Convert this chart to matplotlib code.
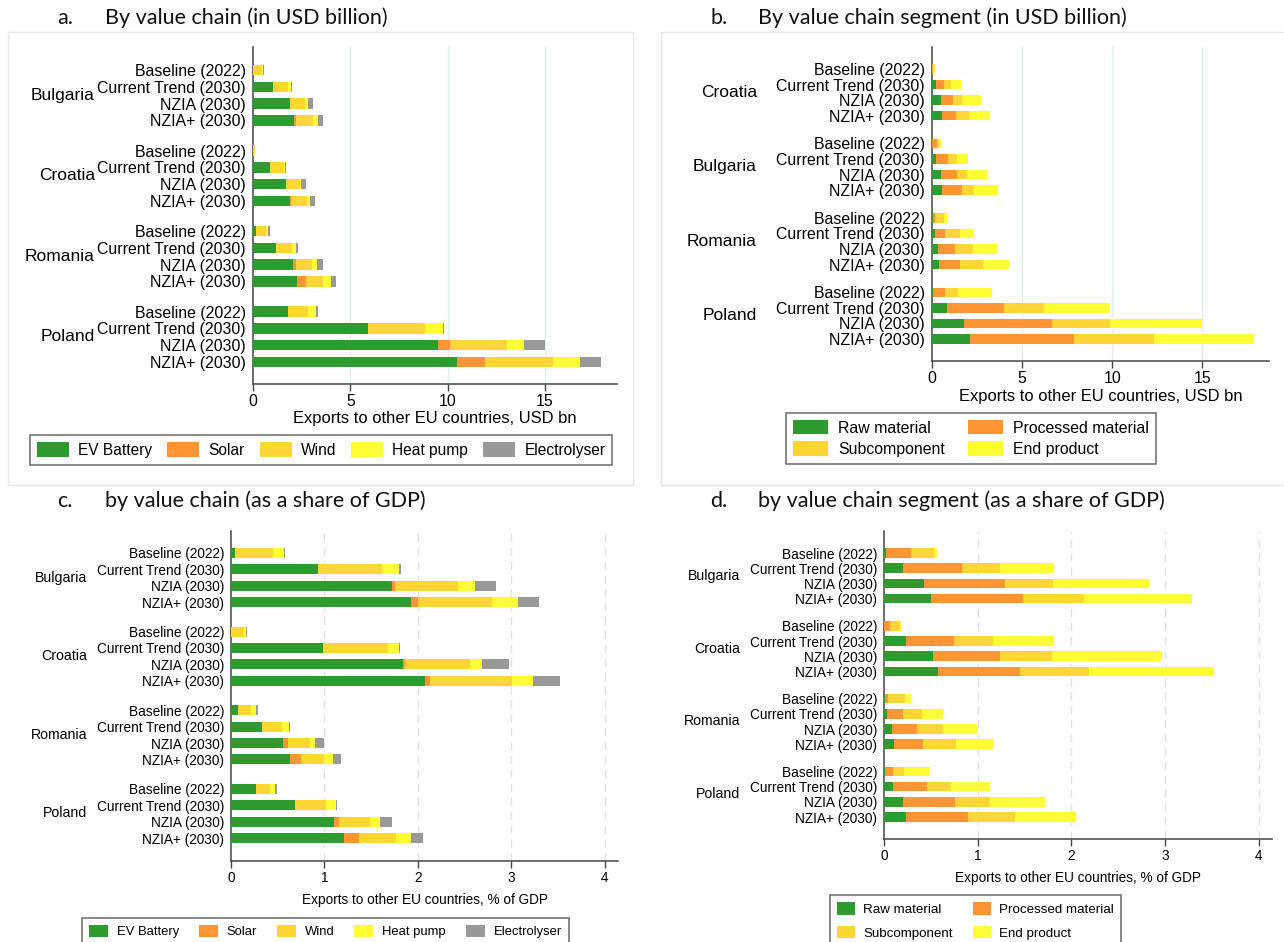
import matplotlib
matplotlib.use('Agg')
import matplotlib.pyplot as plt
import numpy as np
from matplotlib.patches import Patch, Rectangle
from matplotlib.transforms import blended_transform_factory

plt.rcParams['font.family'] = 'Liberation Sans'

# scenario rows, repeated inside every country block
scenarios = ['Baseline (2022)', 'Current Trend (2030)', 'NZIA (2030)', 'NZIA+ (2030)']

# a. by value chain, USD bn  (Bulgaria, Croatia, Romania, Poland)
countries_a = ['Bulgaria', 'Croatia', 'Romania', 'Poland']
ev_usd    = [0.00, 1.01, 1.88, 2.11,  0.00, 0.89, 1.67, 1.90,  0.17, 1.16, 2.05, 2.27,  1.82, 5.91, 9.50, 10.50]
solar_usd = [0.00, 0.00, 0.02, 0.08,  0.00, 0.00, 0.03, 0.04,  0.00, 0.00, 0.16, 0.46,  0.00, 0.00, 0.62, 1.40]
wind_usd  = [0.45, 0.81, 0.77, 0.87,  0.08, 0.70, 0.72, 0.81,  0.51, 0.82, 0.83, 0.89,  1.01, 2.95, 2.94, 3.49]
heat_usd  = [0.07, 0.12, 0.18, 0.29,  0.02, 0.06, 0.04, 0.16,  0.11, 0.23, 0.25, 0.37,  0.41, 0.89, 0.84, 1.39]
elec_usd  = [0.03, 0.06, 0.25, 0.27,  0.02, 0.04, 0.27, 0.29,  0.06, 0.08, 0.31, 0.29,  0.11, 0.08, 1.08, 1.09]

# b. by value chain segment, USD bn  (Croatia, Bulgaria, Romania, Poland)
countries_b = ['Croatia', 'Bulgaria', 'Romania', 'Poland']
raw_usd  = [0.00, 0.23, 0.50, 0.55,  0.01, 0.23, 0.50, 0.57,  0.03, 0.14, 0.32, 0.41,  0.03, 0.84, 1.78, 2.12]
proc_usd = [0.03, 0.45, 0.64, 0.77,  0.24, 0.68, 0.91, 1.07,  0.11, 0.57, 0.98, 1.12,  0.68, 3.15, 4.87, 5.74]
sub_usd  = [0.05, 0.39, 0.52, 0.71,  0.14, 0.46, 0.55, 0.71,  0.50, 0.82, 1.00, 1.29,  0.75, 2.25, 3.21, 4.46]
end_usd  = [0.06, 0.59, 1.05, 1.20,  0.13, 0.63, 1.16, 1.29,  0.23, 0.79, 1.32, 1.46,  1.89, 3.60, 5.13, 5.56]

# c. by value chain, % of GDP  (Bulgaria, Croatia, Romania, Poland)
countries_c = ['Bulgaria', 'Croatia', 'Romania', 'Poland']
ev_gdp    = [0.047, 0.93, 1.72, 1.93,  0.00, 0.98, 1.84, 2.07,  0.07, 0.33, 0.56, 0.63,  0.27, 0.68, 1.10, 1.21]
solar_gdp = [0.00, 0.00, 0.03, 0.07,  0.00, 0.00, 0.02, 0.06,  0.00, 0.00, 0.05, 0.12,  0.00, 0.00, 0.06, 0.16]
wind_gdp  = [0.40, 0.68, 0.68, 0.79,  0.14, 0.70, 0.70, 0.88,  0.14, 0.22, 0.23, 0.25,  0.15, 0.34, 0.33, 0.40]
heat_gdp  = [0.12, 0.19, 0.18, 0.28,  0.02, 0.12, 0.12, 0.22,  0.06, 0.07, 0.06, 0.09,  0.05, 0.10, 0.10, 0.16]
elec_gdp  = [0.013, 0.02, 0.23, 0.23,  0.013, 0.01, 0.29, 0.29,  0.02, 0.01, 0.09, 0.09,  0.02, 0.01, 0.13, 0.12]

# d. by value chain segment, % of GDP  (Bulgaria, Croatia, Romania, Poland)
countries_d = ['Bulgaria', 'Croatia', 'Romania', 'Poland']
raw_gdp  = [0.02, 0.20, 0.43, 0.50,  0.00, 0.23, 0.52, 0.58,  0.01, 0.035, 0.09, 0.11,  0.01, 0.10, 0.20, 0.24]
proc_gdp = [0.27, 0.63, 0.86, 0.98,  0.06, 0.52, 0.72, 0.87,  0.03, 0.165, 0.26, 0.31,  0.09, 0.36, 0.56, 0.66]
sub_gdp  = [0.24, 0.41, 0.51, 0.65,  0.11, 0.41, 0.55, 0.74,  0.18, 0.21, 0.28, 0.35,  0.11, 0.25, 0.37, 0.50]
end_gdp  = [0.04, 0.57, 1.03, 1.16,  0.01, 0.65, 1.18, 1.33,  0.07, 0.22, 0.36, 0.40,  0.28, 0.42, 0.59, 0.65]

chain_names = ['EV Battery', 'Solar', 'Wind', 'Heat pump', 'Electrolyser']
segment_names = ['Raw material', 'Processed material', 'Subcomponent', 'End product']

green, orange, gold, yellow, grey = '#2f9a30', '#ff9633', '#ffd633', '#ffff33', '#999999'
chain_colors = [green, orange, gold, yellow, grey]
segment_colors = [green, orange, gold, yellow]

W, H = 1284, 942
fig = plt.figure(figsize=(W / 100, H / 100), dpi=100)
fig.patch.set_facecolor('white')


def add_px_axes(l, t, r, b):
    return fig.add_axes([l / W, 1 - b / H, (r - l) / W, (b - t) / H])


gap = 0.8
pos = np.array([g * (4 + gap) + i for g in range(4) for i in range(4)], dtype=float)


def draw_panel(ax, box, countries, series, colors, xmax, xticks, xlabel, xlab_size, xlab_y,
               ylim_pad, country_x, lab_size, cty_size, dashed):
    l, t, r, b = box
    left = np.zeros(len(pos))
    for vals, c in zip(series, colors):
        vals = np.array(vals)
        ax.barh(pos, vals, left=left, height=0.62, color=c, edgecolor='none', zorder=3)
        left += vals

    ax.set_xlim(0, xmax)
    ax.set_ylim(pos[-1] + ylim_pad[1], pos[0] - ylim_pad[0])
    ax.set_yticks(pos)
    ax.set_yticklabels(scenarios * 4, fontsize=lab_size)
    ax.tick_params(axis='y', length=0, pad=5)
    ax.set_xticks(xticks)
    ax.set_xticklabels([str(v) for v in xticks], fontsize=lab_size)
    ax.tick_params(axis='x', length=5, width=1, color='#444444', pad=2)
    ax.set_xlabel(xlabel, fontsize=xlab_size)
    ax.xaxis.set_label_coords(0.5, 1 - (xlab_y - t) / (b - t))
    ax.xaxis.label.set_va('center')

    for v in xticks[1:]:
        if dashed:
            ax.axvline(v, color='#e2e2e2', lw=1, ls=(0, (6, 4)), zorder=1)
        else:
            ax.axvline(v, color='#e4eded', lw=1, zorder=1)

    for s in ['top', 'right']:
        ax.spines[s].set_visible(False)
    for s in ['left', 'bottom']:
        ax.spines[s].set_color('#444444')
        ax.spines[s].set_linewidth(1.1)

    tr = blended_transform_factory(ax.transAxes, ax.transData)
    xa = (country_x - l) / (r - l)
    for g, name in enumerate(countries):
        yc = pos[g * 4] + 1.5
        ax.text(xa, yc, name, transform=tr, ha='right', va='center',
                fontsize=cty_size, clip_on=False)


# panel boxes around the top two charts
for (bl, bt, br, bb) in [(8, 32, 633, 485), (661, 32, 1284, 485)]:
    fig.patches.append(Rectangle((bl / W, 1 - bb / H), (br - bl) / W, (bb - bt) / H,
                                 transform=fig.transFigure, fill=False,
                                 edgecolor='#e8e8e8', lw=1))

# titles
title_font = dict(family='Lato', fontsize=15.5, va='center', ha='left', color='#111111')
titles = [(57, 105, 18, 'a.', 'By value chain (in USD billion)'),
          (710, 758, 18, 'b.', 'By value chain segment (in USD billion)'),
          (57, 105, 501, 'c.', 'by value chain (as a share of GDP)'),
          (710, 758, 501, 'd.', 'by value chain segment (as a share of GDP)')]
for xl, xt, yt, letter, text in titles:
    fig.text(xl / W, 1 - yt / H, letter, **title_font)
    fig.text(xt / W, 1 - yt / H, text, **title_font)

box_a = (253, 47, 617, 384)
box_b = (932, 47, 1269, 361)
box_c = (231, 531, 618, 861)
box_d = (884, 531, 1272, 839)

ax_a = add_px_axes(*box_a)
draw_panel(ax_a, box_a, countries_a, [ev_usd, solar_usd, wind_usd, heat_usd, elec_usd],
           chain_colors, 18.7, [0, 5, 10, 15], 'Exports to other EU countries, USD bn', 11.9, 418,
           (1.37, 1.31), 95, 11.4, 12.5, False)

ax_b = add_px_axes(*box_b)
draw_panel(ax_b, box_b, countries_b, [raw_usd, proc_usd, sub_usd, end_usd],
           segment_colors, 18.7, [0, 5, 10, 15], 'Exports to other EU countries, USD bn', 11.9, 396,
           (1.42, 1.42), 757, 11.4, 12.5, False)

ax_c = add_px_axes(*box_c)
draw_panel(ax_c, box_c, countries_c, [ev_gdp, solar_gdp, wind_gdp, heat_gdp, elec_gdp],
           chain_colors, 4.14, [0, 1, 2, 3, 4], 'Exports to other EU countries, % of GDP', 9.8, 900,
           (1.34, 1.40), 87, 9.8, 10.2, True)

ax_d = add_px_axes(*box_d)
draw_panel(ax_d, box_d, countries_d, [raw_gdp, proc_gdp, sub_gdp, end_gdp],
           segment_colors, 4.14, [0, 1, 2, 3, 4], 'Exports to other EU countries, % of GDP', 9.8, 878,
           (1.45, 1.45), 740, 9.8, 10.2, True)

# legends
chain_handles = [Patch(facecolor=c, edgecolor='none', label=n) for c, n in zip(chain_colors, chain_names)]
seg_handles = [Patch(facecolor=c, edgecolor='none', label=n) for c, n in zip(segment_colors, segment_names)]
# two rows: raw / processed on top, subcomponent / end product below
seg_handles = [seg_handles[i] for i in [0, 2, 1, 3]]


def add_legend(handles, l, t, ncol, size, hl, hh, pad, colsp, lsp, bpad):
    leg = fig.legend(handles=handles, loc='upper left', ncol=ncol,
                     bbox_to_anchor=(l / W, 1 - t / H),
                     fontsize=size, frameon=True, fancybox=False, edgecolor='#444444',
                     handlelength=hl, handleheight=hh, handletextpad=pad,
                     columnspacing=colsp, labelspacing=lsp, borderpad=bpad,
                     borderaxespad=0)
    leg.get_frame().set_linewidth(1.1)
    return leg


add_legend(chain_handles, 30, 435, 5, 11.2, 2.06, 1.1, 0.58, 0.97, 0.3, 0.45)
add_legend(seg_handles, 786, 413, 2, 11.4, 2.2, 1.0, 0.63, 1.5, 0.36, 0.45)
add_legend(chain_handles, 82, 918, 5, 9.4, 1.46, 1.15, 0.7, 1.5, 0.3, 0.5)
add_legend(seg_handles, 830, 895, 2, 9.6, 1.35, 1.1, 0.6, 1.5, 0.7, 0.55)

plt.savefig('out.png', dpi=100)
